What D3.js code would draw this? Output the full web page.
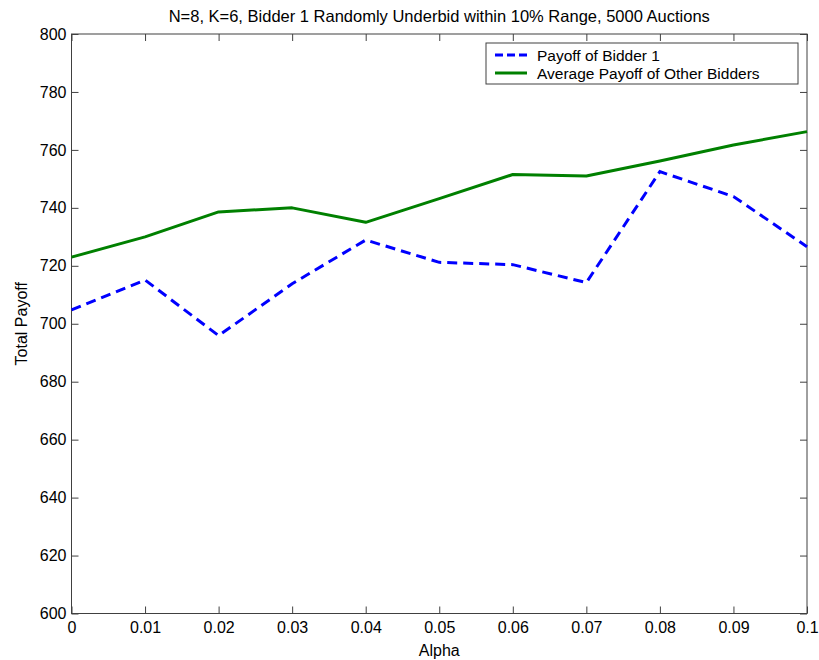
<!DOCTYPE html>
<html><head><meta charset="utf-8">
<script src="https://cdn.jsdelivr.net/npm/d3@7"></script>
<style>body{margin:0;background:#fff}svg{display:block}text{font-family:"Liberation Sans",Arial,sans-serif;fill:#000}</style>
</head><body><svg id="c" width="819" height="660"></svg>
<script>
const alphas = [0, 0.01, 0.02, 0.03, 0.04, 0.05, 0.06, 0.07, 0.08, 0.09, 0.1];
const bidder1 = [704.8, 715.1, 695.9, 713.8, 728.9, 721.2, 720.4, 714.2, 752.5, 743.9, 726.6];
const others = [723.0, 730.0, 738.6, 740.0, 735.0, 743.2, 751.5, 751.0, 756.2, 761.7, 766.3];
const xTicks = [0, 0.01, 0.02, 0.03, 0.04, 0.05, 0.06, 0.07, 0.08, 0.09, 0.1];
const xTickLabels = ["0", "0.01", "0.02", "0.03", "0.04", "0.05", "0.06", "0.07", "0.08", "0.09", "0.1"];
const yTicks = [600, 620, 640, 660, 680, 700, 720, 740, 760, 780, 800];
const seriesNames = ["Payoff of Bidder 1", "Average Payoff of Other Bidders"];
const titleText = "N=8, K=6, Bidder 1 Randomly Underbid within 10% Range, 5000 Auctions";

const L = 71.5, R = 807, T = 34, B = 613.5;
const svg = d3.select("#c");
const x = d3.scaleLinear().domain([0, 0.1]).range([L, R]);
const y = d3.scaleLinear().domain([600, 800]).range([B, T]);
const axisColor = "#404040";
const fs = 16;

// box
svg.append("rect").attr("x", L).attr("y", T).attr("width", R - L).attr("height", B - T)
  .attr("fill", "none").attr("stroke", axisColor).attr("stroke-width", 1);

function styleAxis(g, labels) {
  g.select(".domain").remove();
  g.selectAll(".tick line").attr("stroke", axisColor);
  if (!labels) g.selectAll(".tick text").remove();
  else g.selectAll(".tick text").attr("font-size", fs).attr("fill", "#000")
    .attr("font-family", "'Liberation Sans',Arial,sans-serif");
}
const tl = 7;
svg.append("g").attr("transform", `translate(0,${B})`)
  .call(d3.axisBottom(x).tickValues(xTicks).tickFormat((d, i) => xTickLabels[i]).tickSizeInner(-tl).tickSizeOuter(0).tickPadding(8))
  .call(g => styleAxis(g, true));
svg.append("g").attr("transform", `translate(0,${T})`)
  .call(d3.axisTop(x).tickValues(xTicks).tickSizeInner(-tl).tickSizeOuter(0))
  .call(g => styleAxis(g, false));
svg.append("g").attr("transform", `translate(${L},0)`)
  .call(d3.axisLeft(y).tickValues(yTicks).tickFormat(d3.format("d")).tickSizeInner(-tl).tickSizeOuter(0).tickPadding(5))
  .call(g => styleAxis(g, true));
svg.append("g").attr("transform", `translate(${R},0)`)
  .call(d3.axisRight(y).tickValues(yTicks).tickSizeInner(-tl).tickSizeOuter(0))
  .call(g => styleAxis(g, false));

const line = d3.line().x((d, i) => x(alphas[i])).y(d => y(d));
svg.append("path").datum(others).attr("d", line).attr("fill", "none")
  .attr("stroke", "#008000").attr("stroke-width", 3).attr("stroke-linejoin", "round");
svg.append("path").datum(bidder1).attr("d", line).attr("fill", "none")
  .attr("stroke", "#0000ff").attr("stroke-width", 3).attr("stroke-dasharray", "10,6");

// title & labels
svg.append("text").attr("x", (L + R) / 2).attr("y", 22).attr("text-anchor", "middle")
  .attr("font-size", 16.5).text(titleText);
svg.append("text").attr("x", (L + R) / 2).attr("y", 656).attr("text-anchor", "middle")
  .attr("font-size", fs).text("Alpha");
svg.append("text").attr("transform", `translate(27,${(T + B) / 2}) rotate(-90)`).attr("text-anchor", "middle")
  .attr("font-size", fs).text("Total Payoff");

// legend
const lg = svg.append("g");
lg.append("rect").attr("x", 486).attr("y", 43).attr("width", 312).attr("height", 41)
  .attr("fill", "#fff").attr("stroke", axisColor).attr("stroke-width", 1);
const legColors = ["#0000ff", "#008000"];
const legDash = ["8,4", null];
seriesNames.forEach((n, i) => {
  const yy = 55 + i * 18;
  lg.append("line").attr("x1", 495).attr("x2", 527).attr("y1", yy).attr("y2", yy)
    .attr("stroke", legColors[i]).attr("stroke-width", 3).attr("stroke-dasharray", legDash[i]);
  lg.append("text").attr("x", 537).attr("y", yy + 5.5).attr("font-size", 15.5).text(n);
});
</script></body></html>
